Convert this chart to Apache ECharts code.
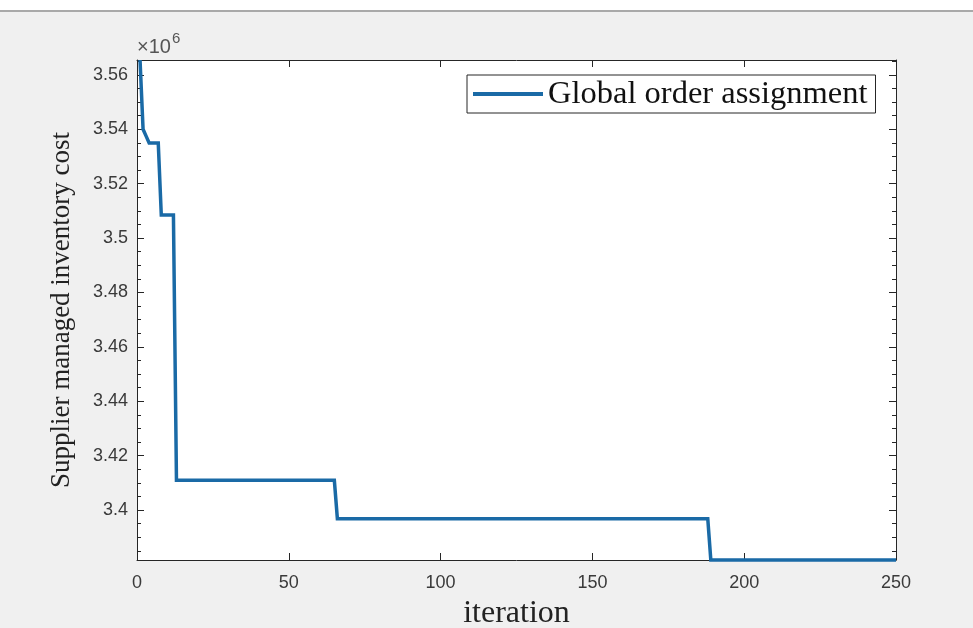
<!DOCTYPE html>
<html>
<head>
<meta charset="utf-8">
<script src="https://cdn.jsdelivr.net/npm/echarts@6/dist/echarts.min.js"></script>
<style>
html,body{margin:0;padding:0;background:#f0f0f0;}
#chart{width:973px;height:628px;}
</style>
</head>
<body>
<div id="chart"></div>
<script>
// Data
const iterations = [1, 2, 3, 4, 7, 8, 12, 13, 65, 66, 188, 189, 250];
const cost = [3565500, 3540000, 3537500, 3535000, 3535000, 3508500, 3508500, 3410900, 3410900, 3396800, 3396800, 3381600, 3381600];
const xTicks = [0, 50, 100, 150, 200, 250];
const yMin = 3381600, yMax = 3565500;
const seriesName = 'Global order assignment';

const points = iterations.map((it, i) => [it, cost[i]]);
const axisColor = '#262626';
const tickFont = {fontFamily: 'Liberation Sans, Arial, sans-serif', fontSize: 18, color: '#3a3a3a'};

const chart = echarts.init(document.getElementById('chart'), null, {renderer: 'canvas'});
chart.setOption({
  backgroundColor: '#f0f0f0',
  animation: false,
  graphic: [
    {type: 'rect', left: 0, top: 0, shape: {width: 973, height: 11}, style: {fill: '#ffffff'}, silent: true},
    {type: 'rect', left: 0, top: 10, shape: {width: 973, height: 2}, style: {fill: '#a9a9a9'}, silent: true},
    {type: 'text', left: 137, top: 31, silent: true,
     style: {text: '{a|×10}{b|6}', rich: {
       a: {fontFamily: 'Liberation Sans, Arial, sans-serif', fontSize: 20, fill: '#555', verticalAlign: 'bottom'},
       b: {fontFamily: 'Liberation Sans, Arial, sans-serif', fontSize: 15, fill: '#555', verticalAlign: 'top', padding: [0,0,11,1]}
     }}}
  ],
  grid: {left: 137, top: 60, right: 77, bottom: 68, show: true, backgroundColor: '#ffffff', borderWidth: 0,
         outerBoundsMode: 'none', containLabel: false},
  legend: {
    left: 467, top: 75,
    data: [{name: seriesName, icon: 'rect'}],
    backgroundColor: '#ffffff', borderColor: '#262626', borderWidth: 1, borderRadius: 0,
    padding: [2, 8, 2, 6],
    itemWidth: 70, itemHeight: 4, itemGap: 0,
    textStyle: {fontFamily: 'Liberation Serif, Times New Roman, serif', fontSize: 32.5, color: '#111', lineHeight: 34, padding: [0,0,0,0]}
  },
  xAxis: [
    {type: 'value', min: 0, max: 250, interval: 50, position: 'bottom',
     name: 'iteration', nameLocation: 'middle', nameGap: 38,
     nameTextStyle: {fontFamily: 'Liberation Serif, Times New Roman, serif', fontSize: 32, color: '#222'},
     axisLine: {show: true, onZero: false, lineStyle: {color: axisColor, width: 1}},
     axisTick: {show: true, inside: true, length: 7, lineStyle: {color: axisColor}},
     axisLabel: {show: true, margin: 14, ...tickFont, customValues: xTicks},
     splitLine: {show: false}},
    {type: 'value', min: 0, max: 250, interval: 50, position: 'top',
     axisLine: {show: true, onZero: false, lineStyle: {color: axisColor, width: 1}},
     axisTick: {show: true, inside: true, length: 7, lineStyle: {color: axisColor}},
     axisLabel: {show: false}, splitLine: {show: false}}
  ],
  yAxis: [
    {type: 'value', min: yMin, max: yMax, splitNumber: 9, position: 'left', scale: true,
     name: 'Supplier managed inventory cost', nameLocation: 'middle', nameGap: 62, nameRotate: 90,
     nameTextStyle: {fontFamily: 'Liberation Serif, Times New Roman, serif', fontSize: 27, color: '#222'},
     axisLine: {show: true, onZero: false, lineStyle: {color: axisColor, width: 1}},
     axisTick: {show: true, inside: true, length: 7, lineStyle: {color: axisColor}},
     minorTick: {show: true, splitNumber: 4, length: 4, lineStyle: {color: axisColor}},
     axisLabel: {show: true, margin: 9, ...tickFont, showMinLabel: false, showMaxLabel: false,
       formatter: v => {
         if (Math.abs(v / 20000 - Math.round(v / 20000)) > 1e-6) return '';
         return String(+(v / 1e6).toFixed(2));
       }},
     splitLine: {show: false}},
    {type: 'value', min: yMin, max: yMax, splitNumber: 9, position: 'right', scale: true,
     axisLine: {show: true, onZero: false, lineStyle: {color: axisColor, width: 1}},
     axisTick: {show: true, inside: true, length: 7, lineStyle: {color: axisColor}},
     minorTick: {show: true, splitNumber: 4, length: 4, lineStyle: {color: axisColor}},
     axisLabel: {show: false}, splitLine: {show: false}}
  ],
  series: [{
    name: seriesName, type: 'line', data: points,
    xAxisIndex: 0, yAxisIndex: 0,
    symbol: 'none', clip: false,
    lineStyle: {color: '#1a6aa6', width: 3.5, join: 'miter'},
    itemStyle: {color: '#1a6aa6'}
  }]
});
</script>
</body>
</html>
